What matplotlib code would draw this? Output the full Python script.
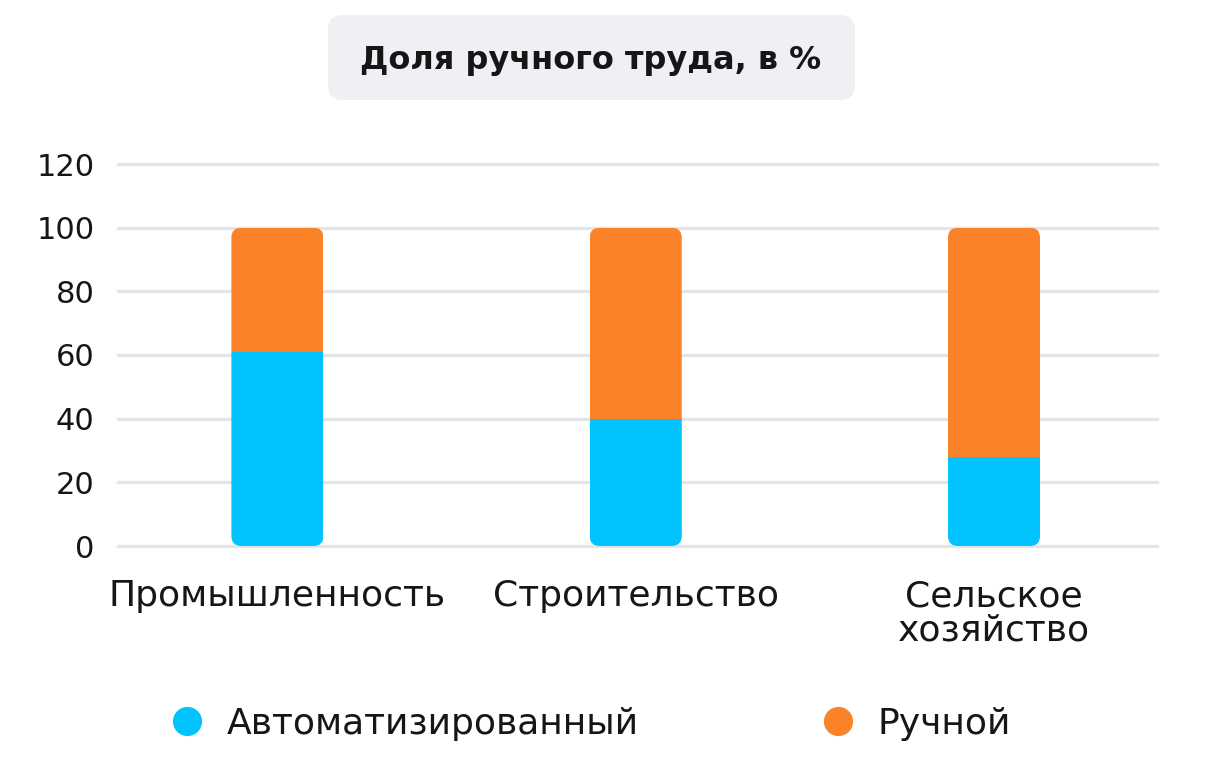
import matplotlib
matplotlib.use("Agg")
import matplotlib.pyplot as plt
from matplotlib.patches import FancyBboxPatch
from matplotlib.lines import Line2D

# data
categories = ["Промышленность", "Строительство", "Сельское\nхозяйство"]
automated = [61, 40, 28]
manual = [39, 60, 72]
yticks = [0, 20, 40, 60, 80, 100, 120]
series_names = ["Автоматизированный", "Ручной"]
title = "Доля ручного труда, в %"

blue = "#03c3ff"
orange = "#fa8329"
grid_col = "#e3e5e8"
text_col = "#161616"

plt.rcParams["font.family"] = ["DejaVu Sans"]

fig = plt.figure(figsize=(12.05, 7.67), dpi=100)
ax = fig.add_axes([118 / 1205, 1 - 546 / 767, 1039 / 1205, 382 / 767])

x = list(range(len(categories)))
width = 0.257
b1 = ax.bar(x, automated, width, color=blue, zorder=3)
b2 = ax.bar(x, manual, width, bottom=automated, color=orange, zorder=3)

ax.set_xlim(-0.445, 2.455)
ax.set_ylim(0, 120)
ax.set_yticks(yticks)
ax.set_xticks(x)
ax.set_xticklabels(categories, fontsize=26, color=text_col, linespacing=1.0)
ax.tick_params(axis="y", length=0, pad=17, labelsize=22, labelcolor=text_col)
ax.tick_params(axis="x", length=0, pad=24)
for s in ax.spines.values():
    s.set_visible(False)
ax.grid(axis="y", color=grid_col, linewidth=2.3, zorder=0)
for gl in ax.get_ygridlines():
    gl.set_clip_on(False)

# round bar corners with a clip path
p0 = ax.transData.transform((0, 0))
p1 = ax.transData.transform((1, 1))
aspect = (p1[0] - p0[0]) / (p1[1] - p0[1])
r = 10 / (p1[0] - p0[0])
for i in x:
    total = automated[i] + manual[i]
    clip = FancyBboxPatch((i - width / 2, 0), width, total,
                          boxstyle=f"round,pad=0,rounding_size={r}",
                          mutation_aspect=aspect, transform=ax.transData)
    b1[i].set_clip_path(clip)
    b2[i].set_clip_path(clip)

# title box
box = FancyBboxPatch((328 / 1205, 1 - 100 / 767), 527 / 1205, 85 / 767,
                     boxstyle=f"round,pad=0,rounding_size={15 / 1205}",
                     mutation_aspect=1205 / 767, transform=fig.transFigure,
                     facecolor="#eef0f3", edgecolor="none")
fig.patches.append(box)
fig.text(591 / 1205, 1 - 60 / 767, title, ha="center", va="center",
         fontsize=23, fontweight="bold", color=text_col)

handles = [Line2D([], [], marker="o", linestyle="none", markersize=21,
                  markerfacecolor=c, markeredgecolor="none")
           for c in (blue, orange)]
fig.legend(handles, series_names, loc="center", ncol=2,
           bbox_to_anchor=(590 / 1205, 1 - 724 / 767), frameon=False,
           fontsize=26, handlelength=1.0, handletextpad=0.6,
           columnspacing=5.0, labelcolor=text_col)

fig.savefig("out.png", dpi=100, facecolor="white")
